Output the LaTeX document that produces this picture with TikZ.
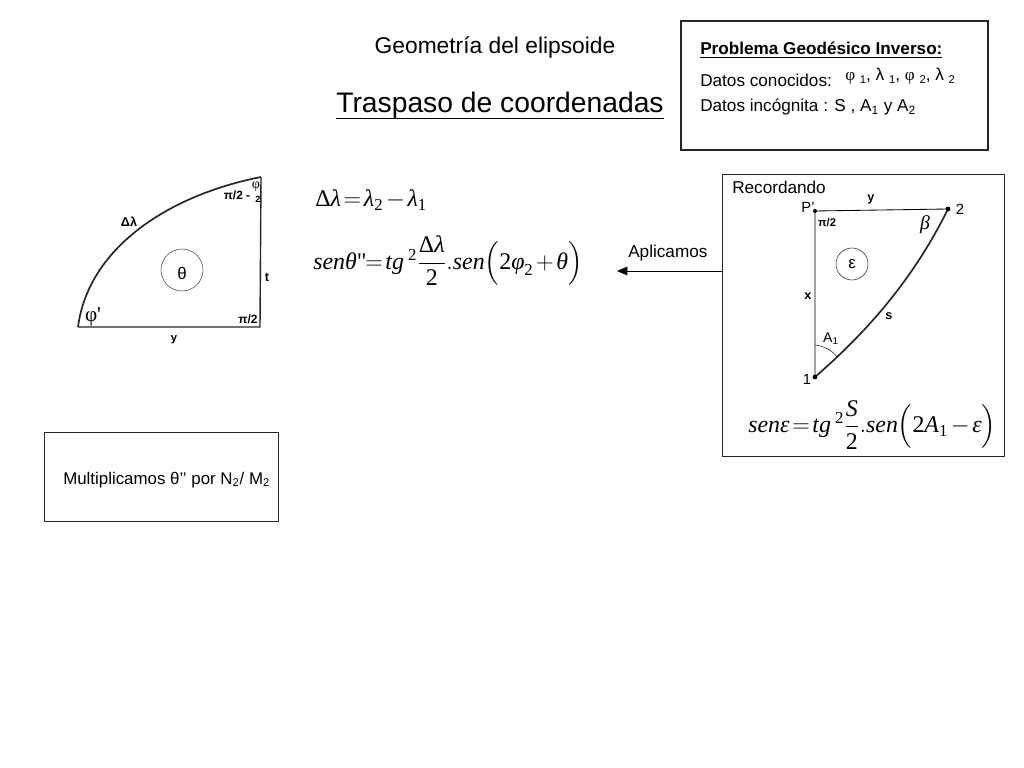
\documentclass[tikz,border=0pt]{standalone}
\usepackage{amsmath}
\usepackage{fontspec}
\setmainfont{Liberation Sans}
\newfontfamily\timesf{Liberation Serif}
\usetikzlibrary{arrows, calc, positioning}
\newcommand{\mi}[1]{\text{\timesf\itshape #1}}
\newcommand{\mr}[1]{\text{\timesf #1}}
\newcommand{\lowsub}[1]{\raisebox{-2pt}{\footnotesize #1}}
\thickmuskip=2mu
\medmuskip=2mu
\tikzset{
  box/.style={draw=black!85, line width=0.6pt},
  txt/.style={inner sep=0pt, anchor=west, font=\fontsize{12.2}{15}\selectfont},
  lbl/.style={inner sep=0pt, font=\fontsize{8}{9}\selectfont\bfseries},
  arc line/.style={line width=1pt, black!85},
  formula/.style={inner sep=0pt, anchor=west, font=\fontsize{17}{20}\selectfont}
}
\begin{document}
\begin{tikzpicture}[x=0.025cm,y=-0.025cm]
\useasboundingbox (0,0) rectangle (1024,768);
% titles
\node[inner sep=0pt, font=\fontsize{16.2}{18}\selectfont] (geom) at (495,47) {Geometría del elipsoide};
\node[inner sep=0pt, font=\fontsize{20.1}{24}\selectfont] (trasp) at (500,105) {Traspaso de coordenadas};
\draw[line width=0.7pt] (trasp.south west) -- (trasp.south east);
% datos
\draw[box, line width=1pt] (681,21) rectangle (988,150);
\node[txt, font=\fontsize{12.2}{15}\selectfont\bfseries] (prob) at (700,50) {\underline{Problema Geodésico Inverso:}};
\node[txt] (conoc) at (700,80) {Datos conocidos:};
\node[txt] (valores) at (845,76) {{\timesf φ} \lowsub{1}, λ \lowsub{1}, {\timesf φ} \lowsub{2}, λ \lowsub{2}};
\node[txt] (incog) at (700,107) {Datos incógnita : S , A\textsubscript{1} y A\textsubscript{2}};
% triangulo izquierda
\draw[arc line] (78,327) -- (260,327) -- (261,177);
\draw[arc line, line width=1.2pt] (78,327) .. controls (88,250) and (165,196) .. (261,177);
\draw[black!70] (182,270) circle (21);
\node[lbl, font=\fontsize{12}{13}\selectfont] (theta) at (182,273) {θ};
\node[lbl, font=\fontsize{9}{10}\selectfont\bfseries] (dl) at (129,222) {Δλ};
\node[lbl, font=\fontsize{8.5}{10}\selectfont\bfseries] (pimenos) at (237,195) {π/2 -};
\node[lbl, font=\fontsize{10}{10}\timesf\selectfont] (fi2) at (256,187) {φ};
\node[lbl, font=\fontsize{6.5}{7}\selectfont\bfseries] (dos) at (258,199) {2};
\node[lbl, font=\fontsize{9}{10}\selectfont\bfseries] (t) at (267,277) {t};
\node[lbl] (yleft) at (174,340) {y};
\node[lbl, font=\fontsize{15}{16}\timesf\selectfont] (fi) at (93,317) {φ'};
\node[lbl, font=\fontsize{8.5}{10}\selectfont\bfseries] (pileft) at (248,319) {π/2};
% formulas
\node[formula] (f1) at (315,200) {$\mr{Δ}\mi{λ} = \mi{λ}_{\mr{2}} - \mi{λ}_{\mr{1}}$};
\node[formula] (f2) at (313,261) {$\mi{senθ}\mr{"}\!=\mi{tg}\,^{\mr{2}}\dfrac{\mr{Δ}\mi{λ}}{\mr{2}}.\mi{sen}\Bigl(\mr{2}\mi{φ}_{\mr{2}}+\mi{θ}\Bigr)$};
% recordando
\node[box, minimum width=282*0.025cm, minimum height=282*0.025cm, inner sep=0pt] (recbox) at (863,315) {};
\node[txt] (rec) at (732,187) {Recordando};
\node[txt] (aplic) at (628,253) {Aplicamos};
\coordinate (aplicend) at (617,271);
\draw[-triangle 45, line width=0.7pt] (recbox.west |- aplicend) -- (aplicend);
% triangulo derecha
\coordinate (P) at (815,211); \coordinate (dosr) at (948,209); \coordinate (unor) at (815,377);
\draw[line width=0.6pt] (unor) -- (P) -- (dosr);
\draw[arc line, line width=1.2pt] (unor) .. controls (855,342) and (908,290) .. (dosr);
\fill (P) circle (2); \fill (dosr) circle (2.4); \fill (unor) circle (2.4);
\draw[black!85] (815,345) .. controls (824,346) and (832,350) .. (838,358);
\draw[black!80] (852,264) circle (16);
\node[lbl, font=\fontsize{12}{13}\selectfont] (eps) at (852,264) {ε};
\node[lbl, font=\fontsize{10.5}{11}\selectfont\mdseries] (pprima) at (808,207) {P'};
\node[lbl, font=\fontsize{10.5}{11}\selectfont\mdseries] (n2) at (960,209) {2};
\node[lbl, font=\fontsize{10.5}{11}\selectfont] (n1) at (807,379) {1};
\node[lbl, font=\fontsize{9}{10}\selectfont\bfseries] (yright) at (871,199) {y};
\node[lbl] (pir) at (827,223) {π/2};
\node[lbl, font=\fontsize{14}{15}\timesf\itshape\selectfont] (beta) at (925,225) {β};
\node[lbl, font=\fontsize{9}{10}\selectfont\bfseries] (x) at (808,296) {x};
\node[lbl, font=\fontsize{9}{10}\selectfont\bfseries] (s) at (889,316) {s};
\node[lbl, font=\fontsize{10}{11}\selectfont\mdseries] (a1) at (831,339) {A\textsubscript{1}};
\node[formula] (f3) at (748,425) {$\mi{senε}=\mi{tg}\,^{\mr{2}}\dfrac{\mi{S}}{\mr{2}}.\mi{sen}\Bigl(\mr{2}\mi{A}_{\mr{1}}-\mi{ε}\Bigr)$};
% multiplicamos
\node[box, minimum width=234*0.025cm, minimum height=89*0.025cm, inner sep=0pt] (multbox) at (161,476.5) {};
\node[txt, font=\fontsize{12}{15}\selectfont] (mult) at (63,480) {Multiplicamos θ’’ por N\textsubscript{2}/ M\textsubscript{2}};
\end{tikzpicture}
\end{document}
